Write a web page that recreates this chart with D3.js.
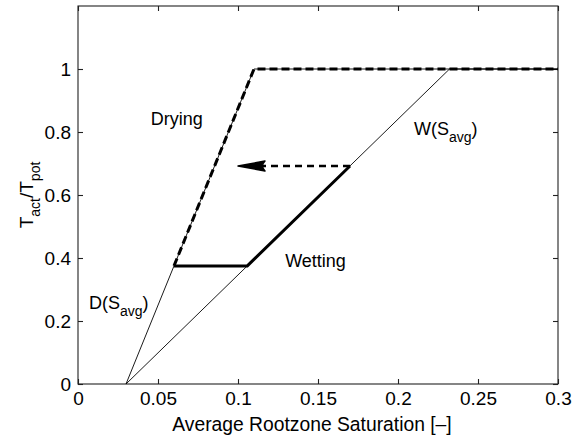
<!DOCTYPE html>
<html>
<head>
<meta charset="utf-8">
<script src="https://d3js.org/d3.v7.min.js"></script>
<style>
  body { margin: 0; background: #fff; }
  text { font-family: "Liberation Sans", Arial, Helvetica, sans-serif; fill: #000; }
</style>
</head>
<body>
<div id="chart"></div>
<script>
// thin reference curves D(S) and W(S)
var dryX = [0.03, 0.11, 0.3];
var dryY = [0, 1, 1];
var wetX = [0.03, 0.2322, 0.3];
var wetY = [0, 1, 1];
// drying path (thick dashed)
var dryPathX = [0.06, 0.11, 0.3];
var dryPathY = [0.375, 1, 1];
// wetting path (thick solid)
var wetPathX = [0.06, 0.1058, 0.17];
var wetPathY = [0.375, 0.375, 0.692];
// switch arrow (dashed)
var arrowX = [0.17, 0.1];
var arrowY = [0.692, 0.692];

var xTicks = [0, 0.05, 0.1, 0.15, 0.2, 0.25, 0.3];
var yTicks = [0, 0.2, 0.4, 0.6, 0.8, 1];

var width = 580, height = 439;
var margin = {top: 6, right: 22, bottom: 55, left: 78};

var svg = d3.select("#chart").append("svg")
    .attr("width", width)
    .attr("height", height);

var x = d3.scaleLinear().domain([0, 0.3]).range([margin.left, width - margin.right]);
var y = d3.scaleLinear().domain([0, 1.2]).range([height - margin.bottom, margin.top]);

function pts(xs, ys){ return xs.map(function(d, i){ return [d, ys[i]]; }); }
var line = d3.line().x(function(d){ return x(d[0]); }).y(function(d){ return y(d[1]); });

// axes, ticks inward on all four sides
var fmt = function(d){ return d3.format("")(+d.toFixed(2)); };
svg.append("g")
    .attr("transform", "translate(0," + y(0) + ")")
    .call(d3.axisBottom(x).tickValues(xTicks).tickSize(-5).tickPadding(8).tickFormat(fmt));
svg.append("g")
    .attr("transform", "translate(0," + y(1.2) + ")")
    .call(d3.axisTop(x).tickValues(xTicks).tickSize(-5).tickFormat(""));
svg.append("g")
    .attr("transform", "translate(" + x(0) + ",0)")
    .call(d3.axisLeft(y).tickValues(yTicks).tickSize(-5).tickPadding(7).tickFormat(fmt));
svg.append("g")
    .attr("transform", "translate(" + x(0.3) + ",0)")
    .call(d3.axisRight(y).tickValues(yTicks).tickSize(-5).tickFormat(""));

svg.selectAll(".domain, .tick line").attr("stroke", "#222").attr("stroke-width", 1.1);
svg.selectAll(".tick text").style("font-size", "19px").attr("fill", "#000");
svg.selectAll(".domain").attr("d", null);
// full box
svg.append("rect")
    .attr("x", x(0)).attr("y", y(1.2))
    .attr("width", x(0.3) - x(0)).attr("height", y(0) - y(1.2))
    .attr("fill", "none").attr("stroke", "#222").attr("stroke-width", 1.1);

// thin curves
svg.append("path").datum(pts(dryX, dryY)).attr("d", line)
    .attr("fill", "none").attr("stroke", "#000").attr("stroke-width", 0.9);
svg.append("path").datum(pts(wetX, wetY)).attr("d", line)
    .attr("fill", "none").attr("stroke", "#000").attr("stroke-width", 0.9);

// drying path thick dashed
svg.append("path").datum(pts(dryPathX, dryPathY)).attr("d", line)
    .attr("fill", "none").attr("stroke", "#000").attr("stroke-width", 3)
    .attr("stroke-dasharray", "8,4");

// wetting path thick solid
svg.append("path").datum(pts(wetPathX, wetPathY)).attr("d", line)
    .attr("fill", "none").attr("stroke", "#000").attr("stroke-width", 3);

// arrow
svg.append("path").datum(pts([arrowX[0], arrowX[1] + 0.005], arrowY)).attr("d", line)
    .attr("fill", "none").attr("stroke", "#000").attr("stroke-width", 2.5)
    .attr("stroke-dasharray", "7,5");
var tx = x(arrowX[1]), ty = y(arrowY[1]);
svg.append("path")
    .attr("d", "M" + tx + "," + ty + " L" + (tx + 27) + "," + (ty - 5) +
        " Q" + (tx + 22) + "," + ty + " " + (tx + 27) + "," + (ty + 5) + " Z")
    .attr("fill", "#000").attr("stroke", "#000").attr("stroke-width", 1.5)
    .attr("stroke-linejoin", "round");

// labels
function label(xv, yv, main, sub, tail){
  var t = svg.append("text").attr("x", x(xv)).attr("y", y(yv)).style("font-size", "18px");
  t.append("tspan").text(main);
  if (sub) {
    t.append("tspan").attr("dy", 7).style("font-size", "14px").text(sub);
    t.append("tspan").attr("dy", -7).text(tail);
  }
}
label(0.0455, 0.823, "Drying");
label(0.1295, 0.372, "Wetting");
label(0.210, 0.791, "W(S", "avg", ")");
label(0.0069, 0.238, "D(S", "avg", ")");

// x axis label
svg.append("text")
    .attr("x", 312).attr("y", 431)
    .attr("text-anchor", "middle")
    .style("font-size", "19.3px")
    .text("Average Rootzone Saturation [\u2013]");

// y axis label
var yl = svg.append("text")
    .attr("transform", "translate(33," + 195 + ") rotate(-90)")
    .attr("text-anchor", "middle")
    .style("font-size", "19px");
yl.append("tspan").text("T");
yl.append("tspan").attr("dy", 7).style("font-size", "14px").text("act");
yl.append("tspan").attr("dy", -7).text("/T");
yl.append("tspan").attr("dy", 7).style("font-size", "14px").text("pot");
</script>
</body>
</html>
